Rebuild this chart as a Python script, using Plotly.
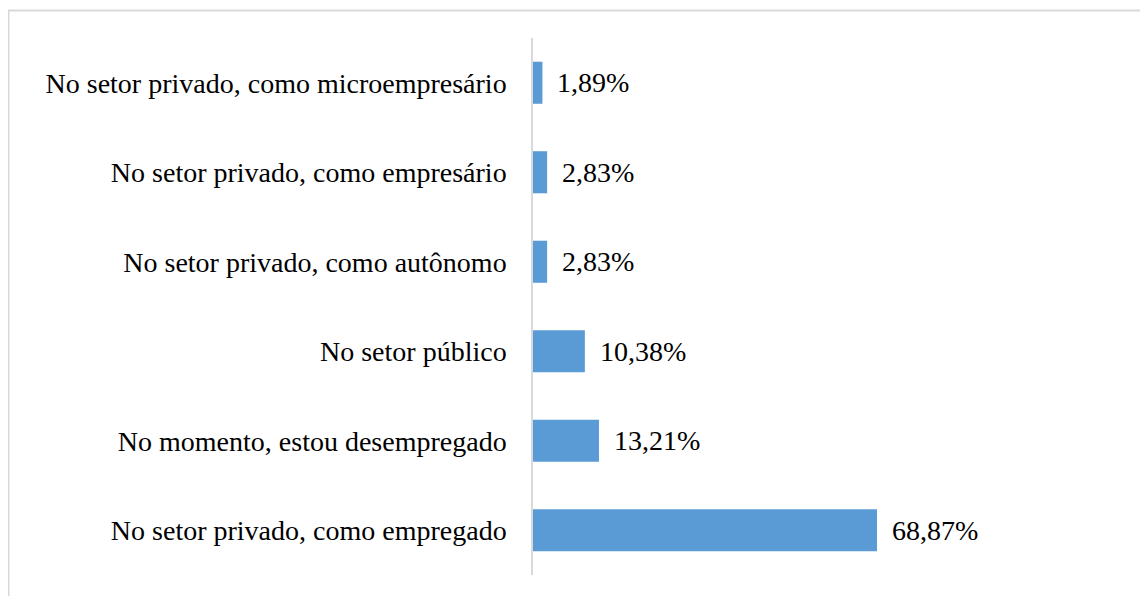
import plotly.graph_objects as go

categories = [
    "No setor privado, como empregado",
    "No momento, estou desempregado",
    "No setor público",
    "No setor privado, como autônomo",
    "No setor privado, como empresário",
    "No setor privado, como microempresário",
]
values = [68.87, 13.21, 10.38, 2.83, 2.83, 1.89]
labels = [f"{v:.2f}%".replace(".", ",") for v in values]

OFF = 8  # page body margin
W, H = 1148 - OFF, 596 - OFF
L, R, T, B = 533 - OFF, 48, 38 - OFF, 21
pw, ph = W - L - R, H - T - B
FONT = "Liberation Serif"
FS = 28

fig = go.Figure()
fig.add_trace(go.Bar(
    y=categories, x=values, orientation="h",
    marker=dict(color="#5B9BD5", line=dict(width=0)),
    width=0.47, hoverinfo="skip",
))
for c, v, t in zip(categories, values, labels):
    fig.add_annotation(x=v, y=c, text=t, showarrow=False, xanchor="left",
                       xshift=13, yshift=0,
                       font=dict(family=FONT, size=FS, color="#000000"))

def px_x(p):
    return (p - OFF - L) / pw

def px_y(p):
    return (H - B - (p - OFF)) / ph

fig.add_shape(type="rect", xref="paper", yref="paper",
              x0=px_x(8.5), x1=px_x(1170), y0=px_y(620), y1=px_y(10.5),
              line=dict(color="#d9d9d9", width=2), fillcolor="rgba(0,0,0,0)", layer="below")

fig.update_layout(
    width=W, height=H,
    margin=dict(l=L, r=R, t=T, b=B, pad=0),
    paper_bgcolor="white", plot_bgcolor="white",
    showlegend=False,
    font=dict(family=FONT, size=FS, color="#000000"),
    xaxis=dict(range=[0, pw / 4.995], visible=False, fixedrange=True),
    yaxis=dict(showline=True, linecolor="#d9d9d9", linewidth=1.5,
               ticks="", showgrid=False, ticklabelstandoff=19,
               tickfont=dict(family=FONT, size=FS, color="#000000")),
)
fig.write_html("out.html")
